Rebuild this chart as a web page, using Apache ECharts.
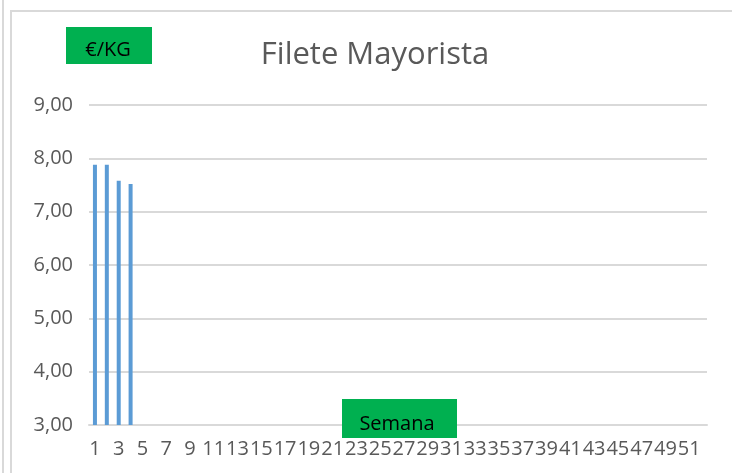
<!DOCTYPE html>
<html>
<head>
<meta charset="utf-8">
<script src="https://cdn.jsdelivr.net/npm/echarts@6/dist/echarts.min.js"></script>
<style>
  html, body { margin: 0; padding: 0; background: #fff; }
  #chart { width: 732px; height: 473px; }
</style>
</head>
<body>
<div id="chart"></div>
<script>
// semanas 1..52
const semanas = Array.from({ length: 52 }, (_, i) => String(i + 1))
// precio filete mayorista (€/kg), solo hay datos de las primeras 4 semanas
const precios = [7.88, 7.88, 7.58, 7.52]
const titulo = 'Filete Mayorista'
const unidad = '€/KG'
const ejeX = 'Semana'

const FONT = '"Open Sans", sans-serif'
const GRIS = '#595959'
const VERDE = '#00B050'

const myChart = echarts.init(document.getElementById('chart'))

const option = {
  animation: false,
  grid: { left: 89, right: 25, top: 105, bottom: 48 },
  xAxis: {
    type: 'category',
    data: semanas,
    axisLine: { show: true, lineStyle: { color: '#d9d9d9', width: 2 } },
    axisTick: { show: false },
    axisLabel: {
      interval: 1,
      color: GRIS,
      fontFamily: FONT,
      fontSize: 20,
      margin: 14,
    },
  },
  yAxis: {
    type: 'value',
    min: 3,
    max: 9,
    interval: 1,
    axisLine: { show: false },
    axisTick: { show: false },
    splitLine: { lineStyle: { color: '#d9d9d9', width: 2 } },
    axisLabel: {
      color: GRIS,
      fontFamily: FONT,
      fontSize: 20,
      margin: 16,
      formatter: (v) => v.toFixed(2).replace('.', ','),
    },
  },
  series: [
    {
      type: 'bar',
      data: precios,
      barWidth: 4,
      itemStyle: { color: '#5B9BD5' },
    },
  ],
  graphic: [
    // bordes
    { type: 'line', shape: { x1: 3, y1: 0, x2: 3, y2: 473 }, style: { stroke: '#d9d9d9', lineWidth: 2 } },
    { type: 'rect', shape: { x: 11, y: 11, width: 760, height: 500 }, style: { fill: 'none', stroke: '#d9d9d9', lineWidth: 2 } },
    // titulo
    {
      type: 'text',
      x: 375,
      y: 55,
      style: { text: titulo, font: '31px ' + FONT, fill: GRIS, textAlign: 'center', textVerticalAlign: 'middle' },
    },
    // etiqueta eje y
    { type: 'rect', shape: { x: 66, y: 27, width: 86, height: 37 }, style: { fill: VERDE } },
    {
      type: 'text',
      x: 108,
      y: 50,
      style: { text: unidad, font: '20px ' + FONT, fill: '#000', textAlign: 'center', textVerticalAlign: 'middle' },
    },
    // etiqueta eje x
    { type: 'rect', shape: { x: 342, y: 399, width: 115, height: 39 }, z: 10, style: { fill: VERDE } },
    {
      type: 'text',
      x: 397,
      y: 424,
      z: 11,
      style: { text: ejeX, font: '20px ' + FONT, fill: '#000', textAlign: 'center', textVerticalAlign: 'middle' },
    },
  ],
}

myChart.setOption(option)
</script>
</body>
</html>
